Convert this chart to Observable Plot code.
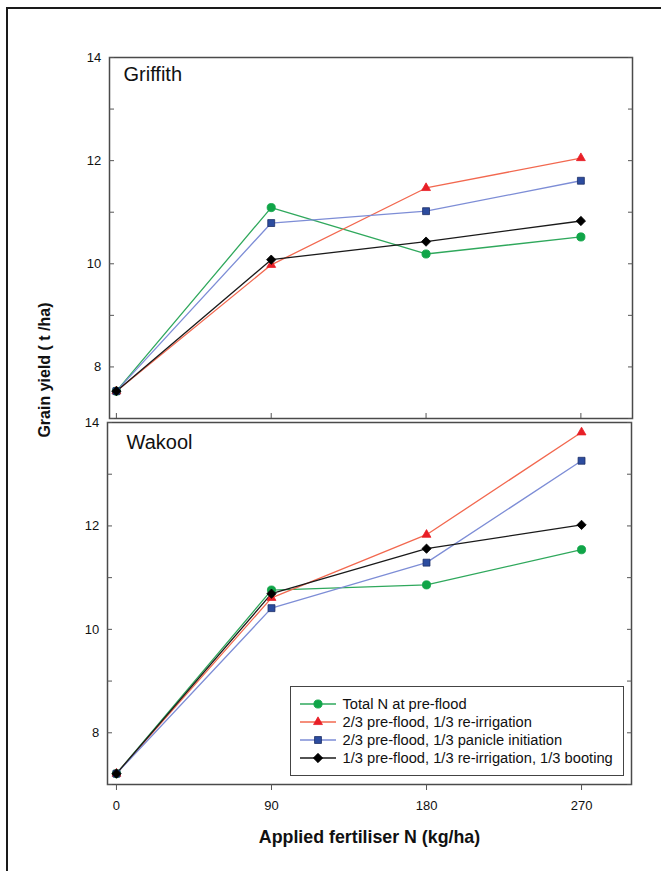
<!DOCTYPE html>
<html><head><meta charset="utf-8">
<script src="https://cdn.jsdelivr.net/npm/d3@7"></script>
<script src="https://cdn.jsdelivr.net/npm/@observablehq/plot@0.6"></script>
<style>
body{margin:0;background:#fff;font-family:"Liberation Sans",Arial,sans-serif;}
#wrap{position:relative;width:661px;height:871px;overflow:hidden;background:#fff;}
#border{position:absolute;left:6px;top:7px;width:800px;height:1000px;border-left:2px solid #1a1a1a;border-top:2px solid #1a1a1a;}
.panel{position:absolute;left:0;}
.panel svg{font-family:"Liberation Sans",Arial,sans-serif;}
.panel g[aria-label$="tick label"]{font-size:13px;}
#ylabel{position:absolute;left:45px;top:370px;transform:translate(-50%,-50%) rotate(-90deg);font-weight:bold;font-size:16px;white-space:nowrap;color:#111;}
#legend{position:absolute;left:290px;top:686px;width:334px;height:90px;border:1.5px solid #444;background:#fff;box-sizing:border-box;padding-top:7.5px;}
.item{display:flex;align-items:center;height:18px;font-size:14.7px;color:#111;white-space:nowrap;}
.item svg{margin-left:8.5px;margin-right:7px;flex:none;}
</style></head>
<body>
<div id="wrap">
  <div id="border"></div>
  <div id="top" class="panel" style="top:0px"></div>
  <div id="bottom" class="panel" style="top:420px"></div>
  <div id="ylabel"></div>
  <div id="legend"></div>
</div>
<script>
// ---- data ----
const nRates = [0, 90, 180, 270];
const sites = ["Griffith", "Wakool"];
const seriesNames = [
  "Total N at pre-flood",
  "2/3 pre-flood, 1/3 re-irrigation",
  "2/3 pre-flood, 1/3 panicle initiation",
  "1/3 pre-flood, 1/3 re-irrigation, 1/3 booting"
];
const griffithTotalPreflood = [7.53, 11.09, 10.19, 10.52];
const griffithReirrigation  = [7.53, 9.98, 11.47, 12.05];
const griffithPanicle       = [7.53, 10.79, 11.02, 11.61];
const griffithBooting       = [7.53, 10.08, 10.43, 10.83];
const wakoolTotalPreflood   = [7.21, 10.76, 10.86, 11.54];
const wakoolReirrigation    = [7.21, 10.61, 11.83, 13.81];
const wakoolPanicle         = [7.21, 10.41, 11.29, 13.26];
const wakoolBooting         = [7.21, 10.69, 11.56, 12.02];
const yTickLabels = [8, 10, 12, 14];
const yMinorTicks = [7, 8, 9, 10, 11, 12, 13, 14];
const xTickLabels = [0, 90, 180, 270];
const xLabel = "Applied fertiliser N (kg/ha)";
const yLabel = "Grain yield ( t /ha)";

// ---- styles ----
const lineColors = ["#2fa85c", "#f2684f", "#7d8dd6", "#1a1a1a"];
const markFill   = ["#10a548", "#e81f27", "#2c4c9f", "#000000"];
const markStroke = ["#10a548", "#e81f27", "#1d2f66", "#000000"];
const markSymbol = ["circle", "triangle", "square", "diamond2"];
const markR      = [4.1, 3.3, 3.9, 4.2];
const font = '"Liberation Sans", Arial, sans-serif';

function rowsFor(values) {
  const rows = [];
  seriesNames.forEach((s, i) => values[i].forEach((v, j) => rows.push({series: s, n: nRates[j], yield: v})));
  return rows;
}

function panel(site, values, o) {
  const rows = rowsFor(values);
  const fmt = d => String(d);
  const marks = [
    Plot.frame({stroke: "#4a4a4a", strokeWidth: 1.5}),
    Plot.axisY(yMinorTicks, {anchor: "left", tickSize: -5, fill: "none", stroke: "#555", label: null}),
    Plot.axisY(yMinorTicks, {anchor: "right", tickSize: -5, fill: "none", stroke: "#555", label: null}),
    Plot.axisY(yTickLabels, {anchor: "left", tickSize: 0, tickPadding: o.yPad, fill: "#111", label: null,
      tickFormat: fmt, fontSize: 13}),
    o.labels
      ? Plot.axisX(xTickLabels, {anchor: "bottom", tickSize: 6, tickPadding: 10, stroke: "#555", fill: "#111",
          label: null, tickFormat: fmt, fontSize: 13})
      : Plot.axisX(xTickLabels, {anchor: "bottom", tickSize: -5, fill: "none", stroke: "#555", label: null}),
    Plot.line(rows, {x: "n", y: "yield", z: "series", stroke: "series", strokeWidth: 1.3}),
    ...seriesNames.map((s, i) => Plot.dot(rows.filter(d => d.series === s), {
      x: "n", y: "yield", symbol: markSymbol[i], r: markR[i],
      fill: markFill[i], stroke: markStroke[i], strokeWidth: 0.8
    })),
    Plot.text([site], {text: d => d, frameAnchor: "top-left", textAnchor: "start", lineAnchor: "top",
      dx: o.labelDx, dy: o.labelDy, fontSize: 20, fill: "#111"})
  ];
  if (o.labels) {
    marks.push(Plot.text([xLabel], {text: d => d, frameAnchor: "bottom", lineAnchor: "bottom",
      dy: 58, fontSize: 17.8, fontWeight: "bold", fill: "#111"}));
  }
  return Plot.plot({
    width: 661, height: o.height,
    marginTop: o.mt, marginBottom: o.mb, marginLeft: o.ml, marginRight: o.mr,
    x: {domain: o.xdom},
    y: {domain: [7, 14]},
    color: {domain: seriesNames, range: lineColors},
    style: {fontFamily: font, fontSize: "13px", overflow: "visible", background: "transparent"},
    marks
  });
}

document.getElementById("top").appendChild(panel(sites[0],
  [griffithTotalPreflood, griffithReirrigation, griffithPanicle, griffithBooting],
  {height: 420, mt: 57, mb: 2, ml: 109, mr: 29, xdom: [-4, 300], labelDx: 14, labelDy: 9, yPad: 8.3, labels: false}));
document.getElementById("bottom").appendChild(panel(sites[1],
  [wakoolTotalPreflood, wakoolReirrigation, wakoolPanicle, wakoolBooting],
  {height: 451, mt: 2, mb: 87, ml: 107, mr: 30, xdom: [-5.2, 299], labelDx: 19, labelDy: 12, yPad: 8.3, labels: true}));

document.getElementById("ylabel").textContent = yLabel;

// legend
const symbolTypes = {circle: d3.symbolCircle, triangle: d3.symbolTriangle, square: d3.symbolSquare, diamond2: d3.symbolDiamond2};
const legend = d3.select("#legend");
seriesNames.forEach((s, i) => {
  const item = legend.append("div").attr("class", "item");
  const svg = item.append("svg").attr("width", 36).attr("height", 12);
  svg.append("line").attr("x1", 0).attr("x2", 36).attr("y1", 6).attr("y2", 6)
    .attr("stroke", lineColors[i]).attr("stroke-width", 1.3);
  svg.append("path").attr("transform", "translate(18,6)")
    .attr("d", d3.symbol(symbolTypes[markSymbol[i]], Math.PI * markR[i] * markR[i])())
    .attr("fill", markFill[i]).attr("stroke", markStroke[i]).attr("stroke-width", 0.8);
  item.append("span").text(s);
});
</script>
</body></html>
